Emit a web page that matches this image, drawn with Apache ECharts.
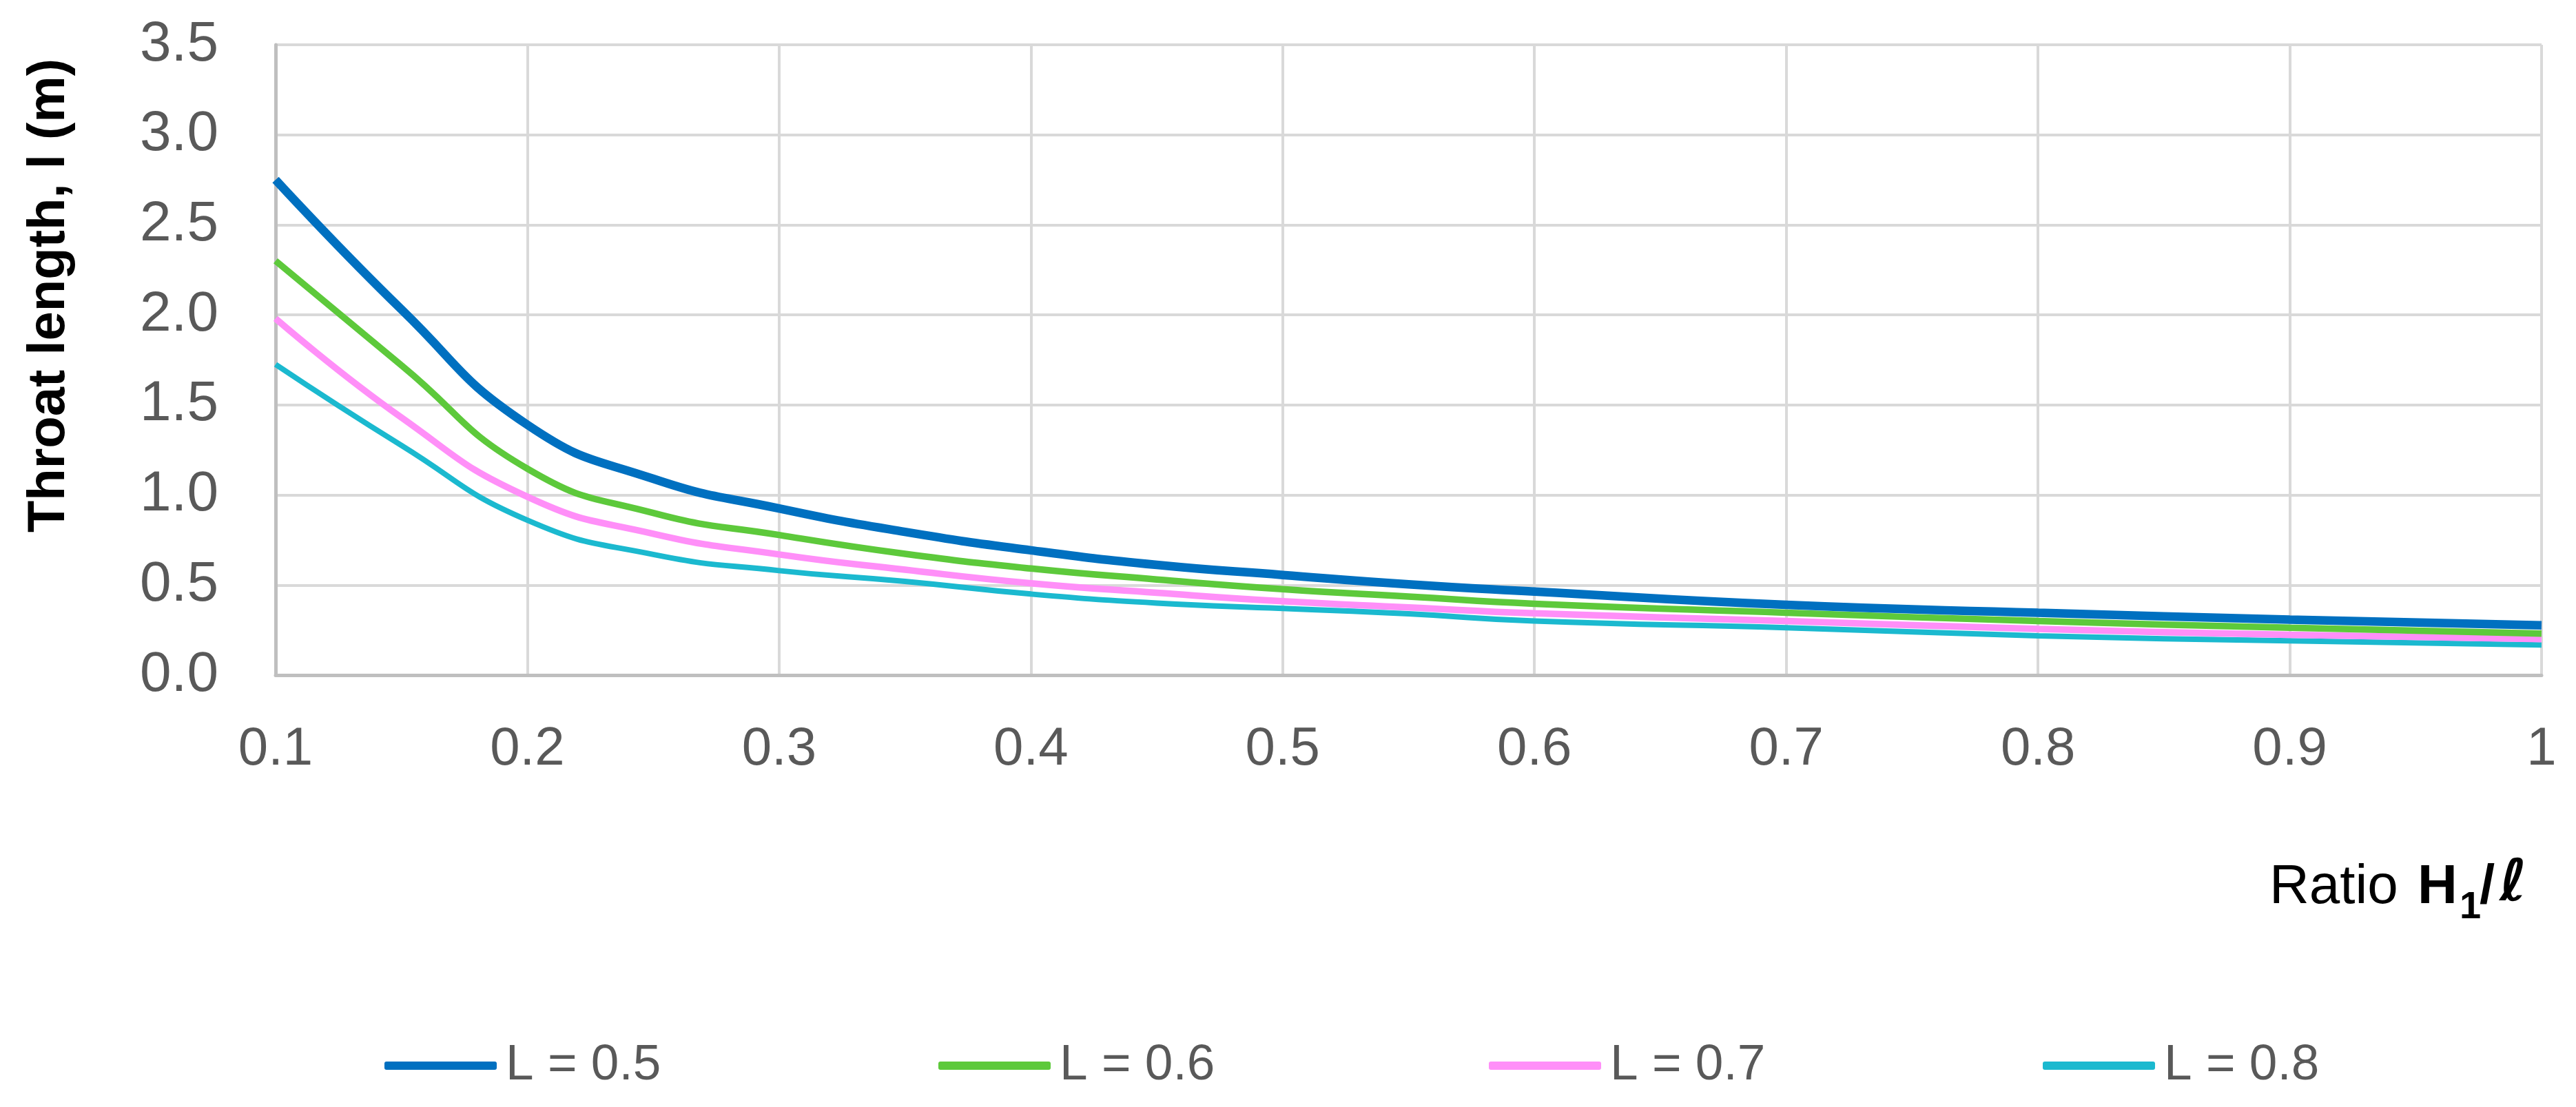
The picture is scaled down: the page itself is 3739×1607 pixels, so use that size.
<!DOCTYPE html>
<html>
<head>
<meta charset="utf-8">
<script src="https://cdn.jsdelivr.net/npm/echarts@6/dist/echarts.min.js"></script>
<style>
  html, body { margin: 0; padding: 0; background: #fff; }
  #chart { width: 3739px; height: 1607px; }
</style>
</head>
<body>
<div id="chart"></div>
<script>
// ratio H1/l on the x axis
const ratios = [0.1, 0.15, 0.2, 0.25, 0.3, 0.35, 0.4, 0.45, 0.5, 0.55, 0.6, 0.7, 0.8, 0.9, 1.0];
// throat length (m)
const lenL05 = [2.75, 2.03, 1.39, 1.09, 0.925, 0.795, 0.693, 0.612, 0.556, 0.504, 0.464, 0.39, 0.346, 0.308, 0.276];
const lenL06 = [2.30, 1.72, 1.146, 0.90, 0.778, 0.673, 0.592, 0.531, 0.477, 0.436, 0.396, 0.346, 0.30, 0.263, 0.23];
const lenL07 = [1.98, 1.43, 0.99, 0.785, 0.67, 0.585, 0.51, 0.457, 0.41, 0.376, 0.343, 0.30, 0.256, 0.224, 0.20];
const lenL08 = [1.725, 1.275, 0.86, 0.67, 0.58, 0.52, 0.45, 0.40, 0.37, 0.34, 0.30, 0.263, 0.218, 0.19, 0.167];
const seriesNames = ["L = 0.5", "L = 0.6", "L = 0.7", "L = 0.8"];

const colors = ["#0070C0", "#5DC93B", "#FF8FF8", "#1BB9CF"];
const widths = [12.5, 9.5, 9.5, 8];
const legendLeft = [553, 1357, 2156, 2960];

const chart = echarts.init(document.getElementById("chart"));

const pairs = (ys) => ratios.map((x, i) => [x, ys[i]]);
const allData = [lenL05, lenL06, lenL07, lenL08];

const titleFont = { fontFamily: "Liberation Sans", fontSize: 80, fill: "#000", verticalAlign: "middle" };

const options = {
  animation: false,
  backgroundColor: "#fff",
  grid: { left: 400, right: 50, top: 65, bottom: 627 },
  xAxis: {
    type: "value",
    min: 0.1,
    max: 1,
    interval: 0.1,
    axisLine: { show: true, lineStyle: { color: "#BFBFBF", width: 5 } },
    axisTick: { show: false },
    splitLine: { show: true, lineStyle: { color: "#D9D9D9", width: 4 } },
    axisLabel: {
      margin: 68,
      fontFamily: "Liberation Sans",
      fontSize: 78,
      lineHeight: 80,
      color: "#595959",
      formatter: (v) => String(+v.toFixed(1)),
    },
  },
  yAxis: {
    type: "value",
    min: 0,
    max: 3.5,
    interval: 0.5,
    axisLine: { show: true, onZero: false, lineStyle: { color: "#BFBFBF", width: 5 } },
    axisTick: { show: false },
    splitLine: { show: true, lineStyle: { color: "#D9D9D9", width: 4 } },
    axisLabel: {
      margin: 83,
      fontFamily: "Liberation Sans",
      fontSize: 82,
      color: "#595959",
      formatter: (v) => v.toFixed(1),
    },
  },
  legend: seriesNames.map((name, i) => ({
    data: [{ name: name, icon: "roundRect" }],
    left: legendLeft[i],
    top: 1502,
    itemWidth: 163,
    itemHeight: 12,
    selectedMode: false,
    textStyle: {
      fontFamily: "Liberation Sans",
      fontSize: 73,
      lineHeight: 80,
      color: "#595959",
      padding: [0, 0, 0, 8],
    },
  })),
  graphic: [
    {
      type: "text",
      x: 72,
      y: 429,
      rotation: Math.PI / 2,
      style: {
        text: "Throat length, l (m)",
        fontFamily: "Liberation Sans",
        fontWeight: "bold",
        fontSize: 76,
        fill: "#000",
        align: "center",
        verticalAlign: "middle",
      },
    },
    // x axis title: Ratio H1/l, with the 1 as a subscript
    { type: "text", x: 3294, y: 1289, style: Object.assign({ text: "Ratio" }, titleFont) },
    { type: "text", x: 3509, y: 1289, style: Object.assign({ text: "H", fontWeight: "bold" }, titleFont) },
    { type: "text", x: 3570, y: 1318, style: Object.assign({}, titleFont, { text: "1", fontWeight: "bold", fontSize: 56 }) },
    { type: "text", x: 3599, y: 1289, style: Object.assign({ text: "/", fontWeight: "bold" }, titleFont) },
    {
      type: "text",
      x: 3628,
      y: 1285,
      style: Object.assign({}, titleFont, {
        text: "ℓ",
        fontFamily: "DejaVu Sans",
        fontStyle: "italic",
        fontWeight: "bold",
        fontSize: 84,
      }),
    },
  ],
  series: seriesNames.map((name, i) => ({
    name: name,
    type: "line",
    smooth: 0.5,
    showSymbol: false,
    symbol: "none",
    data: pairs(allData[i]),
    color: colors[i],
    lineStyle: { color: colors[i], width: widths[i] },
    z: 10 - i,
  })),
};
chart.setOption(options);
</script>
</body>
</html>
